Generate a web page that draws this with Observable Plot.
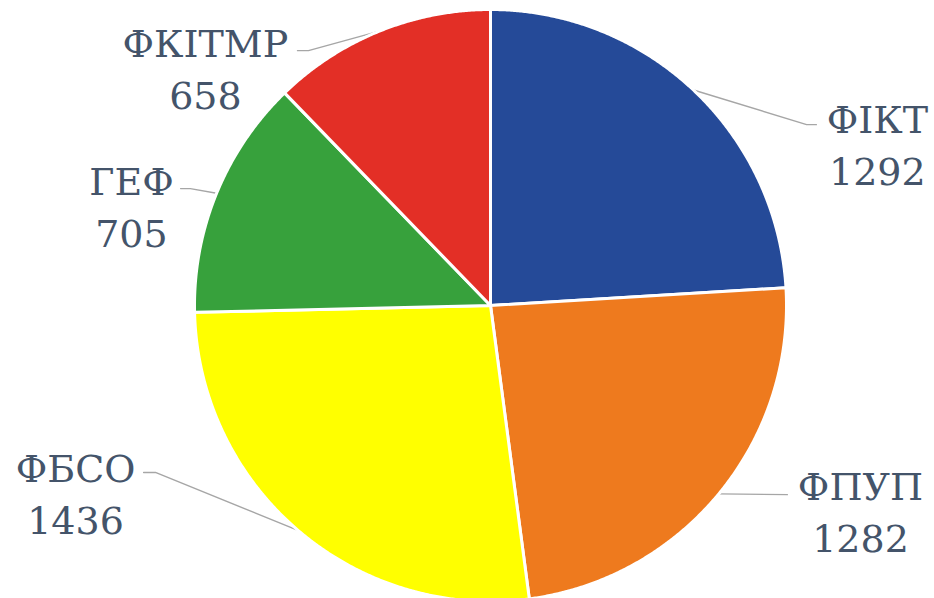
<!DOCTYPE html>
<html>
<head>
<meta charset="utf-8">
<script src="https://cdn.jsdelivr.net/npm/d3@7"></script>
<script src="https://cdn.jsdelivr.net/npm/@observablehq/plot@0.6"></script>
<style>
  html, body { margin: 0; padding: 0; background: #ffffff; }
  #chart { width: 934px; height: 598px; }
</style>
</head>
<body>
<div id="chart"></div>
<script>
// ---- data ----
const categories = ["ФІКТ", "ФПУП", "ФБСО", "ГЕФ", "ФКІТМР"];
const values = [1292, 1282, 1436, 705, 658];
const colors = ["#254a98", "#ee7a1e", "#ffff00", "#37a13c", "#e32f26"];

// ---- layout (in units of the pie radius, pie centre at 0,0) ----
const labelX = [1.307, 1.250, -1.402, -1.213, -0.963];
const labelY = [0.551, -0.688, -0.628, 0.342, 0.808];
const leaderEndX = [1.101, 1.003, -1.172, -1.047, -0.652];
const leaderEndY = [0.611, -0.639, -0.564, 0.395, 0.861];
const elbowX = [1.068, 1.003, -1.132, -1.014, -0.615];

const W = 934, H = 598, CX = 490, CY = 305, R = 296;

const pie = d3.pie().sort(null).value(d => d)(values);

// slice polygons
const slicePts = [];
pie.forEach((p, i) => {
  const name = categories[i];
  slicePts.push({name, x: 0, y: 0});
  const n = Math.max(2, Math.ceil((p.endAngle - p.startAngle) / 0.005));
  for (let k = 0; k <= n; k++) {
    const a = p.startAngle + (p.endAngle - p.startAngle) * k / n;
    slicePts.push({name, x: Math.sin(a), y: Math.cos(a)});
  }
});

// leader lines
const leaderPts = [];
pie.forEach((p, i) => {
  const a = (p.startAngle + p.endAngle) / 2;
  const name = categories[i];
  leaderPts.push({name, x: Math.sin(a), y: Math.cos(a)});
  leaderPts.push({name, x: elbowX[i], y: leaderEndY[i]});
  leaderPts.push({name, x: leaderEndX[i], y: leaderEndY[i]});
});

const labels = categories.map((c, i) => ({name: c, text: c + "\n" + values[i], x: labelX[i], y: labelY[i]}));

const chart = Plot.plot({
  width: W,
  height: H,
  margin: 0,
  x: {domain: [-CX / R, (W - CX) / R], axis: null},
  y: {domain: [-(H - CY) / R, CY / R], axis: null},
  color: {domain: categories, range: colors},
  style: {background: "#ffffff", fontFamily: "DejaVu Serif"},
  marks: [
    Plot.line(leaderPts, {x: "x", y: "y", z: "name", stroke: "#a6a6a6", strokeWidth: 1.4, curve: "linear"}),
    Plot.line(slicePts, {x: "x", y: "y", z: "name", fill: "name", stroke: "#ffffff", strokeWidth: 3, strokeLinejoin: "round", curve: "linear-closed"}),
    Plot.text(labels, {x: "x", y: "y", text: "text", fontSize: 38, fontFamily: "DejaVu Serif", fill: "#44546a", lineHeight: 1.37, textAnchor: "middle"})
  ]
});
document.getElementById("chart").appendChild(chart);
</script>
</body>
</html>
